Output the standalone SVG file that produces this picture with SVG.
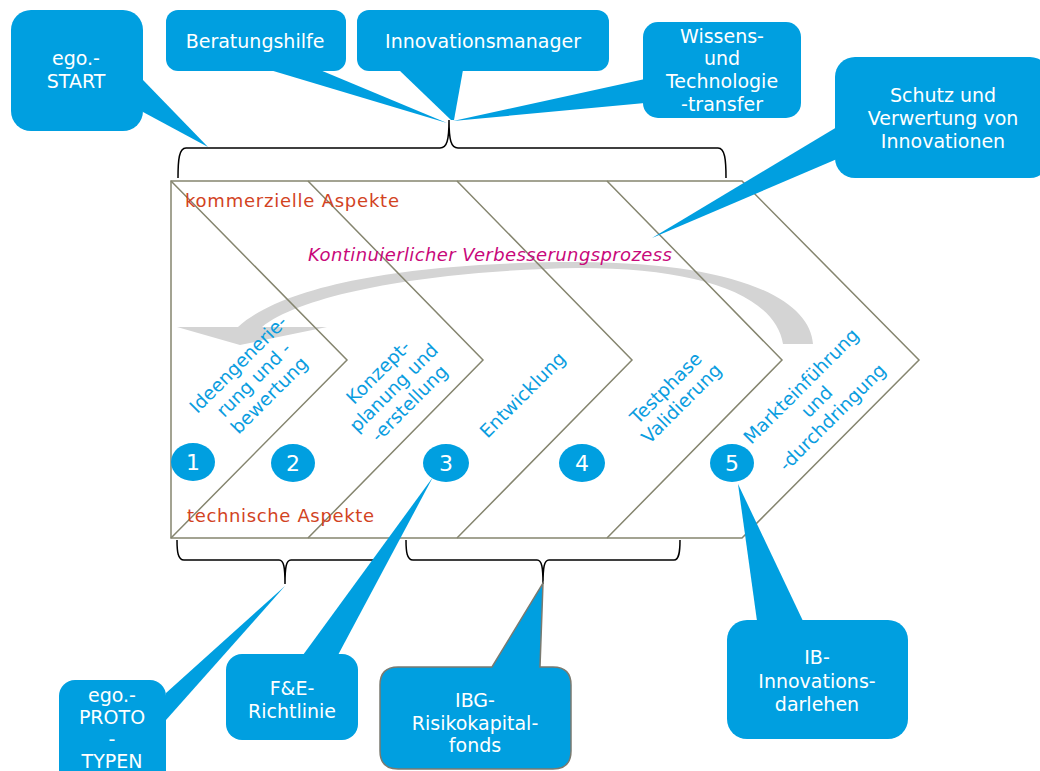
<svg xmlns="http://www.w3.org/2000/svg" width="1040" height="771" viewBox="0 0 1040 771">
<style>
.box{fill:#009fe0}
.ptr{fill:#009fe0}
.bt{font-family:"DejaVu Sans",Verdana,sans-serif;font-size:19px;fill:#ffffff;text-anchor:middle}
.lbl{font-family:"DejaVu Sans",Verdana,sans-serif;font-size:18.5px;fill:#0a9ddf;text-anchor:middle}
.red{font-family:"DejaVu Sans",Verdana,sans-serif;font-size:18px;fill:#d2431f}
.mag{font-family:"DejaVu Sans",Verdana,sans-serif;font-size:18px;fill:#c8087a;font-style:italic}
.num{font-family:"DejaVu Sans",Verdana,sans-serif;font-size:22px;fill:#ffffff;text-anchor:middle}
.frm{fill:none;stroke:#85856f;stroke-width:1.5}
.brace{fill:none;stroke:#000;stroke-width:1.5}
</style>
<rect width="1040" height="771" fill="#ffffff"/>

<g id="cycle-arrow">
<path d="M813,344 C810,300 740,263 580,262 C430,262 290,280 238,327 L177,327 L240,345 L327,327 L262,327 C305,292 440,270 580,268 C700,268 775,295 783,344 Z" fill="#d4d4d4"/>
</g>

<g id="chevrons">
<path class="frm" d="M171,181 H742 L919,360 L742,538 H171 Z"/>
<path class="frm" d="M171,181 L347,360 L171,538"/>
<path class="frm" d="M308,181 L483,360 L308,538"/>
<path class="frm" d="M457,181 L632,360 L457,538"/>
<path class="frm" d="M607,181 L782,360 L607,538"/>
</g>

<g id="aspects">
<text class="red" x="185" y="207" textLength="214" lengthAdjust="spacing">kommerzielle Aspekte</text>
<text class="red" x="187" y="522" textLength="187" lengthAdjust="spacing">technische Aspekte</text>
<text class="mag" x="308" y="261" textLength="364" lengthAdjust="spacing">Kontinuierlicher Verbesserungsprozess</text>
</g>

<g id="connectors">
<path class="brace" d="M178,178 C178,160 179,148 186,148 H440 C447,148 449,140 449,120 C449,140 451,148 458,148 H718 C725,148 726,160 726,178"/>
<path class="brace" d="M177,540 C177,552 178,560 184,560 H279 C284,560 285,568 285,584 C285,568 286,560 291,560 H384 C389,560 390,552 390,540"/>
<path class="brace" d="M406,540 C406,552 407,560 413,560 H537 C542,560 543,568 543,584 C543,568 544,560 549,560 H674 C679,560 680,552 680,540"/>
<polygon class="ptr" points="143,80 143,112 208,147"/>
<polygon class="ptr" points="270,70 320,70 447,123"/>
<polygon class="ptr" points="399,70 463,70 454,120 451,120"/>
<polygon class="ptr" points="645,79 645,103 453,121"/>
<polygon class="ptr" points="837,127 837,159 652,238"/>
<polygon class="ptr" points="166,693 166,720 285,586"/>
<polygon class="ptr" points="303,655 338,655 433,477"/>
<polygon class="ptr" points="757,621 803,621 738,484"/>
</g>

<g id="phase1">
<ellipse class="box" cx="193" cy="462" rx="22" ry="19"/>
<text class="num" x="193" y="470">1</text>
<g transform="translate(254,380) rotate(-45)">
<text class="lbl" x="0" y="-16">Ideengenerie-</text>
<text class="lbl" x="0" y="6">rung und -</text>
<text class="lbl" x="0" y="28">bewertung</text>
</g>
</g>
<g id="phase2">
<ellipse class="box" cx="293" cy="463" rx="22" ry="19"/>
<text class="num" x="293" y="471">2</text>
<g transform="translate(394,388) rotate(-45)">
<text class="lbl" x="0" y="-16">Konzept-</text>
<text class="lbl" x="0" y="6">planung und</text>
<text class="lbl" x="0" y="28">-erstellung</text>
</g>
</g>
<g id="phase3">
<ellipse class="box" cx="446" cy="463" rx="23" ry="19"/>
<text class="num" x="446" y="471">3</text>
<g transform="translate(523,395) rotate(-45)">
<text class="lbl" x="0" y="6">Entwicklung</text>
</g>
</g>
<g id="phase4">
<ellipse class="box" cx="582" cy="463" rx="23" ry="19"/>
<text class="num" x="582" y="471">4</text>
<g transform="translate(674,396) rotate(-45)">
<text class="lbl" x="0" y="-5">Testphase</text>
<text class="lbl" x="0" y="17">Validierung</text>
</g>
</g>
<g id="phase5">
<ellipse class="box" cx="732" cy="463" rx="22" ry="19"/>
<text class="num" x="732" y="471">5</text>
<g transform="translate(817,402) rotate(-45)">
<text class="lbl" x="0" y="-16">Markteinführung</text>
<text class="lbl" x="0" y="6">und</text>
<text class="lbl" x="0" y="28">-durchdringung</text>
</g>
</g>

<g id="ego-start">
<rect class="box" x="11" y="10" width="132" height="121" rx="20"/>
<text class="bt" x="76" y="65">ego.-</text>
<text class="bt" x="76" y="88">START</text>
</g>
<g id="beratungshilfe">
<rect class="box" x="166" y="10" width="180" height="61" rx="12"/>
<text class="bt" x="255" y="48">Beratungshilfe</text>
</g>
<g id="innovationsmanager">
<rect class="box" x="357" y="10" width="252" height="61" rx="12"/>
<text class="bt" x="483" y="48">Innovationsmanager</text>
</g>
<g id="wissenstransfer">
<rect class="box" x="643" y="22" width="158" height="96" rx="15"/>
<text class="bt" x="722" y="43">Wissens-</text>
<text class="bt" x="722" y="65">und</text>
<text class="bt" x="722" y="88">Technologie</text>
<text class="bt" x="722" y="111">-transfer</text>
</g>
<g id="schutz">
<rect class="box" x="835" y="57" width="215" height="121" rx="20"/>
<text class="bt" x="943" y="102">Schutz und</text>
<text class="bt" x="943" y="125">Verwertung von</text>
<text class="bt" x="943" y="148">Innovationen</text>
</g>
<g id="ego-prototypen">
<rect class="box" x="59" y="680" width="107" height="110" rx="16"/>
<text class="bt" x="112" y="702">ego.-</text>
<text class="bt" x="112" y="724">PROTO</text>
<text class="bt" x="112" y="746">-</text>
<text class="bt" x="112" y="768">TYPEN</text>
</g>
<g id="fe-richtlinie">
<rect class="box" x="226" y="654" width="132" height="86" rx="16"/>
<text class="bt" x="292" y="695">F&amp;E-</text>
<text class="bt" x="292" y="718">Richtlinie</text>
</g>
<g id="ibg">
<path d="M398,667 H492 L543,583 L540,667 H553 Q571,667 571,685 V751 Q571,769 553,769 H398 Q380,769 380,751 V685 Q380,667 398,667 Z" fill="#009fe0" stroke="#7a7a70" stroke-width="1.5"/>
<text class="bt" x="475" y="707">IBG-</text>
<text class="bt" x="475" y="730">Risikokapital-</text>
<text class="bt" x="475" y="752">fonds</text>
</g>
<g id="ib-darlehen">
<rect class="box" x="727" y="620" width="181" height="119" rx="20"/>
<text class="bt" x="817" y="664">IB-</text>
<text class="bt" x="817" y="688">Innovations-</text>
<text class="bt" x="817" y="711">darlehen</text>
</g>
</svg>
